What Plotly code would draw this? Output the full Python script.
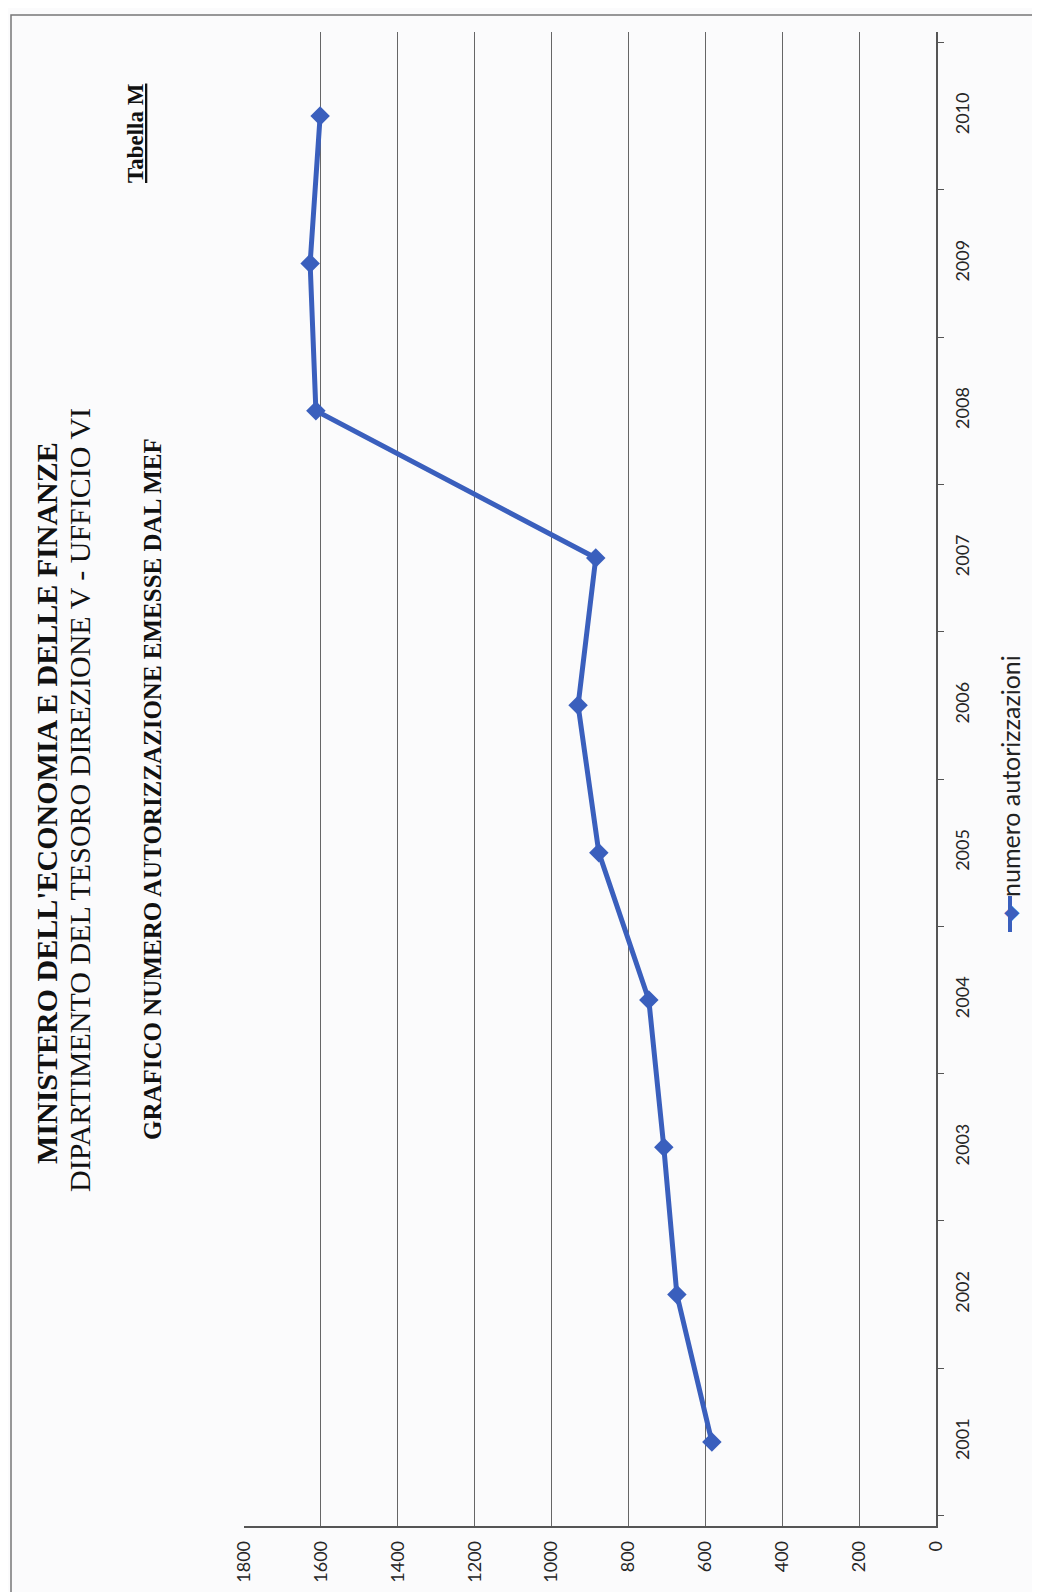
import plotly.graph_objects as go

# ---------------- data ----------------
years = ["2001", "2002", "2003", "2004", "2005", "2006", "2007", "2008", "2009", "2010"]
autorizzazioni = [583, 674, 708, 747, 877, 931, 885, 1613, 1628, 1602]
value_ticks = [0, 200, 400, 600, 800, 1000, 1200, 1400, 1600, 1800]
series_name = "numero autorizzazioni"
title_1 = "MINISTERO DELL'ECONOMIA E DELLE FINANZE"
title_2 = "DIPARTIMENTO DEL TESORO DIREZIONE V - UFFICIO VI"
title_3 = "GRAFICO NUMERO AUTORIZZAZIONE EMESSE DAL MEF"
table_label = "Tabella M"

# ---------------- layout helpers ----------------
W, H = 1040, 1592
L, R, T, B = 236, 928, 24, 1518  # plot area in pixels


def px(x):
    return (x - L) / (R - L)


def py(y):
    return (B - y) / (B - T)


BLUE = "#3a5fbd"
GRID = "#666666"
SERIF = "Liberation Serif"
SANS = "Lato"

fig = go.Figure(
    go.Scatter(
        x=autorizzazioni,
        y=years,
        mode="lines+markers",
        name=series_name,
        line=dict(color=BLUE, width=5),
        marker=dict(symbol="diamond", size=15, color=BLUE),
        showlegend=False,
    )
)

fig.update_layout(
    width=W,
    height=H,
    margin=dict(l=L, r=W - R, t=T, b=H - B),
    paper_bgcolor="#fbfbfc",
    plot_bgcolor="#fbfbfc",
    showlegend=False,
)

fig.update_xaxes(
    range=[1800, 0],
    tickvals=value_ticks,
    ticktext=[str(v) for v in value_ticks],
    tickangle=-90,
    showgrid=True,
    gridcolor=GRID,
    gridwidth=1,
    showline=True,
    linecolor="#555555",
    linewidth=1.5,
    zeroline=False,
    ticks="",
    ticklabelstandoff=6,
    tickfont=dict(family=SANS, size=18, color="#262626"),
)

fig.update_yaxes(
    type="category",
    categoryorder="array",
    categoryarray=years,
    side="right",
    tickangle=-90,
    tickson="boundaries",
    ticks="outside",
    ticklen=6,
    tickcolor="#555555",
    showgrid=False,
    showline=True,
    linecolor="#555555",
    linewidth=1.5,
    zeroline=False,
    ticklabelstandoff=10,
    tickfont=dict(family=SANS, size=18, color="#262626"),
)

annotations = [
    dict(text="<b>" + title_1 + "</b>", x=px(38), y=py(795), font=dict(family=SERIF, size=30, color="#111111")),
    dict(text=title_2, x=px(72), y=py(792), font=dict(family=SERIF, size=30, color="#111111")),
    dict(text="<b>" + title_3 + "</b>", x=px(144), y=py(781), font=dict(family=SERIF, size=25, color="#111111")),
    dict(text="<b><u>" + table_label + "</u></b>", x=px(128), y=py(125), font=dict(family=SERIF, size=23, color="#111111")),
    dict(text=series_name, x=px(1002), y=py(768), font=dict(family=SANS, size=25, color="#222222")),
    dict(text="\u25c6", x=px(1002), y=py(905), font=dict(family="DejaVu Sans", size=20, color=BLUE)),
]
for a in annotations:
    a.update(xref="paper", yref="paper", showarrow=False, textangle=-90, xanchor="center", yanchor="middle")
fig.update_layout(annotations=annotations)

fig.update_layout(
    shapes=[
        dict(type="rect", xref="paper", yref="paper", x0=px(3), x1=px(1036), y0=py(7), y1=py(1588),
             line=dict(color="#777777", width=1.5), layer="below"),
        dict(type="line", xref="paper", yref="paper", x0=px(1002), x1=px(1002), y0=py(888), y1=py(924),
             line=dict(color=BLUE, width=4)),
    ]
)

fig.write_html("out.html")
